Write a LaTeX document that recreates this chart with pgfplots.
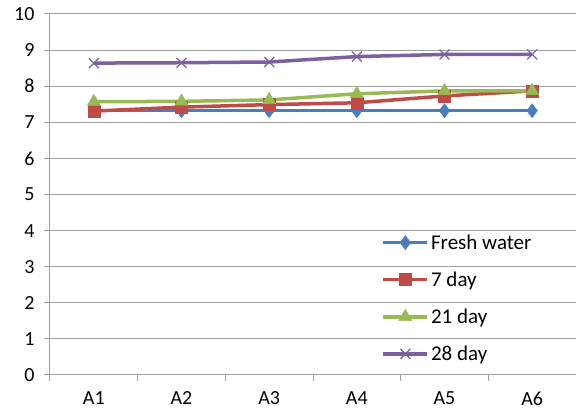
\documentclass[border=0pt]{standalone}
\usepackage{pgfplots}
\pgfplotsset{compat=1.18}
\usepackage{fontspec}
\setmainfont{Carlito}
\definecolor{cblue}{HTML}{4A7EBB}
\definecolor{cred}{HTML}{BE4B48}
\definecolor{cgreen}{HTML}{98B954}
\definecolor{cpurple}{HTML}{7D60A0}
\definecolor{cgrid}{HTML}{A0A0A0}
\begin{document}
\begin{tikzpicture}
\begin{axis}[name=ax,
  scale only axis, width=526pt, height=361pt,
  xmin=-0.5, xmax=5.5, ymin=0, ymax=10,
  axis x line=bottom, axis y line=left,
  axis line style={cgrid, line width=1pt, -},
  xtick={0,1,2,3,4,5}, xticklabels={A1,A2,A3,A4,A5,A6},
  minor xtick={-0.5,0.5,1.5,2.5,3.5,4.5,5.5},
  ytick={0,1,...,10},
  ymajorgrids, grid style={cgrid, line width=1pt},
  major x tick style={draw=none},
  tick align=outside,
  minor tick length=6pt, major tick length=6pt,
  every tick/.style={cgrid, line width=1pt},
  tick label style={font=\fontsize{20}{24}\selectfont, black},
  /pgf/number format/assume math mode=true,
  yticklabel style={xshift=-6pt},
  xticklabel style={yshift=-7pt},
  clip=false,
  legend cell align=left,
  legend style={draw=none, fill=none, at={(0.63,0.395)}, anchor=north west,
    font=\fontsize{21}{25}\selectfont, row sep=17pt, inner sep=0pt},
  legend image code/.code={\draw[mark repeat=2,mark phase=2,#1] plot coordinates {(0pt,0pt) (22pt,0pt) (44pt,0pt)};},
  every axis plot/.append style={line width=3.5pt},
]
\addplot[cblue, mark=diamond*, mark size=7pt, mark options={solid, line width=0.5pt}] coordinates {(0,7.32) (1,7.32) (2,7.32) (3,7.32) (4,7.32) (5,7.32)};
\addlegendentry{Fresh water}
\addplot[cred, mark=square*, mark size=6pt, mark options={solid, line width=0.5pt}] coordinates {(0,7.31) (1,7.42) (2,7.49) (3,7.54) (4,7.73) (5,7.87)};
\addlegendentry{7 day}
\addplot[cgreen, mark=triangle*, mark size=7.5pt, mark options={solid, line width=0.5pt}] coordinates {(0,7.57) (1,7.58) (2,7.62) (3,7.79) (4,7.87) (5,7.87)};
\addlegendentry{21 day}
\addplot[cpurple, mark=x, mark size=7pt, mark options={solid, line width=1.2pt}] coordinates {(0,8.64) (1,8.65) (2,8.67) (3,8.82) (4,8.88) (5,8.88)};
\addlegendentry{28 day}
\end{axis}
\pgfresetboundingbox
\path (ax.south west) ++(-50pt,-39pt) rectangle ([yshift=14pt]ax.north east);
\end{tikzpicture}
\end{document}
